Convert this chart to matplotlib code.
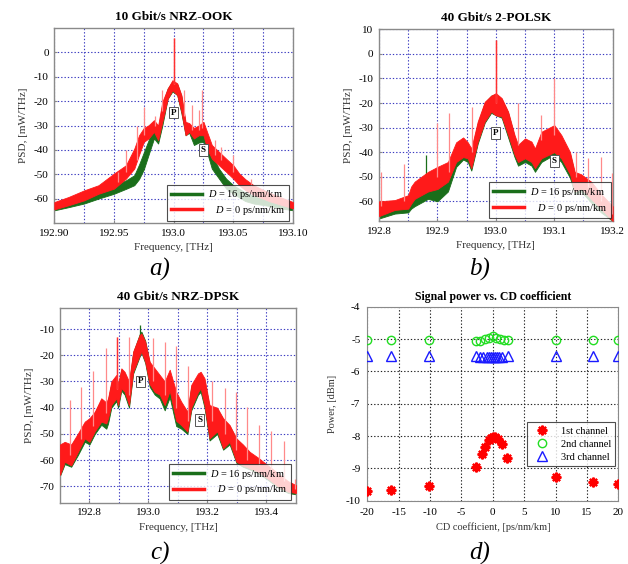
import numpy as np
import matplotlib
matplotlib.use("Agg")
import matplotlib.pyplot as plt
from matplotlib.lines import Line2D

plt.rcParams['font.family'] = ['Liberation Serif', 'DejaVu Serif']
plt.rcParams['mathtext.fontset'] = 'custom'
plt.rcParams['mathtext.it'] = 'Liberation Serif:italic'
plt.rcParams['mathtext.rm'] = 'Liberation Serif'
plt.rcParams['axes.unicode_minus'] = False

# ---------------- Panel a: 10 Gbit/s NRZ-OOK ----------------
fa = [192.900, 192.912, 192.925, 192.937, 192.950, 192.960, 192.967, 192.971, 192.975,
      192.979, 192.9835, 192.987, 192.9905, 192.995, 192.999, 193.003, 193.0065, 193.010,
      193.013, 193.017, 193.021, 193.025, 193.028, 193.032, 193.038, 193.044, 193.050,
      193.055, 193.060, 193.067, 193.080, 193.090, 193.100]
a_red_hi = [-61.4, -59.3, -56.6, -54.5, -49.7, -46.3, -39.5, -34.0, -31.0, -29.9, -27.8, -30.0,
            -20.3, -14.8, -11.4, -12.7, -17.5, -28.5, -29.0, -31.0, -30.0, -28.5, -32.6, -38.0,
            -40.8, -43.6, -46.3, -49.7, -52.0, -54.5, -57.5, -59.5, -61.4]
a_red_lo = [-64.4, -62.7, -60.7, -58.0, -55.9, -51.8, -47.7, -42.0, -36.7, -35.3, -32.6, -36.0,
            -28.5, -19.0, -15.5, -17.5, -24.4, -34.0, -32.6, -35.3, -34.0, -34.0, -39.5, -43.6,
            -46.3, -49.0, -51.8, -54.5, -56.5, -58.5, -61.0, -62.5, -64.0]
a_grn_hi = [-62.0, -60.5, -58.6, -56.8, -54.5, -52.5, -50.4, -46.0, -41.0, -36.0, -30.0, -32.6,
            -21.6, -14.8, -12.0, -13.0, -18.0, -30.0, -30.0, -34.0, -33.0, -31.0, -36.0, -42.0,
            -47.7, -51.8, -54.5, -56.0, -57.5, -59.0, -60.5, -61.5, -62.0]
a_grn_lo = [-64.8, -63.5, -62.0, -60.0, -58.0, -56.0, -54.5, -52.0, -48.0, -42.0, -35.3, -37.4,
            -30.0, -19.0, -16.0, -17.5, -25.0, -34.0, -33.0, -38.0, -37.0, -36.7, -41.0, -47.7,
            -51.8, -55.9, -58.0, -59.5, -61.0, -62.0, -63.0, -64.0, -64.8]
a_spk_f = [192.953, 192.960, 192.969, 192.975, 192.984, 192.990, 193.000, 193.009, 193.015,
           193.021, 193.024, 193.035, 193.040, 193.050, 193.065]
a_spk_base = [-53, -49, -44, -34, -30, -24, -13, -26, -32, -32, -31, -42, -44, -49, -55]
a_spk_top = [-49, -40, -30, -22.3, -26, -15.5, 5.8, -15.5, -21.5, -23.7, -15.5, -36, -39, -42, -52]

# ---------------- Panel b: 40 Gbit/s 2-POLSK ----------------
fb = [192.800, 192.827, 192.850, 192.855, 192.861, 192.884, 192.900, 192.918, 192.932, 192.944,
      192.952, 192.958, 192.969, 192.981, 192.992, 193.000, 193.010, 193.021, 193.032, 193.038,
      193.050, 193.061, 193.067, 193.078, 193.100, 193.112, 193.127, 193.135, 193.146, 193.163,
      193.180, 193.200]
b_red_hi = [-60.0, -59.5, -57.5, -54.0, -52.0, -48.0, -46.0, -44.0, -36.0, -34.0, -36.0, -38.5,
            -27.5, -19.5, -17.0, -16.0, -18.0, -23.5, -33.0, -37.0, -34.4, -35.7, -38.5, -31.7,
            -29.0, -33.0, -40.0, -48.0, -49.0, -52.0, -57.0, -62.0]
b_red_lo = [-66.0, -63.5, -63.0, -61.0, -59.0, -56.0, -55.0, -52.0, -44.0, -42.0, -42.5, -46.5,
            -35.7, -27.5, -23.5, -25.0, -25.5, -33.0, -41.0, -44.0, -42.5, -44.0, -46.5, -42.5,
            -40.0, -42.5, -49.0, -56.0, -54.7, -59.0, -63.0, -68.0]
b_grn_hi = [-61.0, -60.5, -59.0, -56.0, -54.0, -50.0, -48.0, -46.0, -38.0, -35.0, -37.0, -40.0,
            -28.5, -20.0, -17.0, -16.5, -18.5, -24.0, -34.0, -38.0, -35.5, -37.0, -39.5, -33.0,
            -30.0, -34.0, -41.0, -49.0, -50.0, -53.5, -58.5, -63.0]
b_grn_lo = [-67.0, -65.0, -64.5, -63.0, -62.0, -59.0, -60.0, -56.0, -46.0, -43.0, -44.0, -47.5,
            -36.5, -28.0, -24.0, -25.0, -26.0, -34.0, -42.0, -45.5, -44.0, -45.5, -48.0, -44.0,
            -41.0, -44.0, -50.5, -57.0, -56.0, -60.5, -64.5, -68.0]
b_spk_f = [192.803, 192.842, 192.900, 192.920, 192.960, 193.000, 193.038, 193.078, 193.100,
           193.138, 193.157, 193.180, 193.199]
b_spk_base = [-62, -60, -50, -48, -40, -20, -37, -35, -33, -50, -54, -60, -65]
b_spk_top = [-48, -45, -28, -24, -21.5, 5.7, -20, -25, -10, -40, -42.5, -42, -48.6]
b_gspk_f = [192.881]
b_gspk_base = [-54]
b_gspk_top = [-41]

# ---------------- Panel c: 40 Gbit/s NRZ-DPSK ----------------
fc = [192.700, 192.716, 192.738, 192.761, 192.784, 192.800, 192.818, 192.840, 192.857, 192.863,
      192.874, 192.891, 192.897, 192.908, 192.919, 192.934, 192.948, 192.970, 192.976, 192.989,
      193.004, 193.021, 193.038, 193.055, 193.072, 193.094, 193.111, 193.132, 193.145, 193.168,
      193.177, 193.190, 193.207, 193.233, 193.253, 193.275, 193.298, 193.320, 193.343, 193.371,
      193.405, 193.439, 193.473, 193.500]
c_red_hi = [-54.0, -53.0, -54.0, -49.8, -45.3, -44.0, -41.5, -36.4, -38.0, -36.4, -30.0, -27.5,
            -31.0, -25.0, -26.3, -30.0, -18.6, -12.3, -11.7, -14.8, -22.5, -25.0, -27.5, -30.0,
            -25.5, -34.0, -37.7, -41.5, -31.3, -26.9, -26.3, -28.8, -39.0, -40.0, -44.0, -46.6,
            -51.7, -54.0, -56.8, -59.0, -62.0, -65.0, -68.0, -69.5]
c_red_lo = [-65.6, -60.6, -62.0, -56.8, -51.7, -53.0, -49.0, -45.3, -46.0, -44.0, -39.0, -36.4,
            -39.0, -32.6, -33.9, -39.0, -26.3, -20.0, -18.6, -22.5, -31.0, -34.0, -35.0, -39.0,
            -33.5, -45.0, -46.6, -49.1, -40.0, -34.0, -32.6, -39.0, -51.7, -49.0, -55.5, -53.0,
            -60.6, -62.0, -63.0, -64.4, -67.0, -70.0, -72.0, -72.5]
c_grn_hi = [-55.0, -53.5, -54.5, -50.5, -46.0, -44.5, -42.0, -37.0, -39.0, -37.0, -31.0, -28.0,
            -32.0, -25.5, -27.0, -31.0, -19.0, -12.0, -11.0, -14.5, -23.0, -26.0, -28.5, -31.5,
            -27.0, -35.5, -38.5, -42.0, -32.0, -28.0, -28.0, -30.0, -40.0, -40.5, -44.5, -47.0,
            -52.0, -54.5, -57.5, -60.0, -62.5, -65.5, -68.5, -70.0]
c_grn_lo = [-66.0, -61.5, -62.5, -58.0, -53.0, -54.0, -50.0, -46.5, -48.0, -46.0, -40.0, -37.5,
            -40.0, -33.5, -35.0, -40.0, -27.0, -20.5, -19.0, -23.0, -32.0, -35.0, -36.5, -41.0,
            -36.0, -47.0, -48.0, -50.0, -41.0, -35.0, -34.0, -40.0, -52.5, -50.0, -56.0, -54.0,
            -61.0, -62.5, -63.5, -65.0, -67.5, -70.5, -72.5, -73.0]
c_spk_f = [192.733, 192.772, 192.812, 192.855, 192.894, 192.934, 193.015, 193.055, 193.094,
           193.134, 193.215, 193.258, 193.298, 193.335, 193.375, 193.416, 193.458, 193.498]
c_spk_base = [-58, -52, -47, -42, -33, -35, -30, -35, -40, -45, -45, -50, -56, -60, -62, -65, -68, -71]
c_spk_top = [-37, -32, -26, -17.4, -13, -13, -13.6, -14.8, -16.4, -24, -30, -32.6, -34, -39.6,
             -46.4, -49, -52.7, -67]
c_gspk_f = [192.972]
c_gspk_base = [-15]
c_gspk_top = [-8.5]

# ---------------- Panel d: Signal power vs CD coefficient ----------------
ch1_x = [-20, -16.3, -10.2, -2.7, -1.8, -1.2, -0.6, -0.3, 0.0, 0.4, 0.9, 1.5, 2.3, 10, 16, 20]
ch1_y = [-9.70, -9.67, -9.55, -8.96, -8.54, -8.33, -8.12, -8.05, -8.02, -8.04, -8.10, -8.25,
         -8.68, -9.28, -9.41, -9.48]
ch2_x = [-20, -16.3, -10.2, -2.7, -2.0, -1.3, -0.6, 0.0, 0.5, 1.2, 1.8, 2.4, 10, 16, 20]
ch2_y = [-5.03, -5.03, -5.03, -5.06, -5.05, -5.01, -4.97, -4.92, -4.97, -5.00, -5.03, -5.04,
         -5.03, -5.03, -5.03]
ch3_x = [-20, -16.3, -10.2, -2.7, -2.0, -1.5, -1.0, -0.6, -0.3, 0.0, 0.3, 0.6, 1.0, 1.5, 2.4,
         10, 16, 20]
ch3_y = [-5.53, -5.53, -5.53, -5.53, -5.54, -5.55, -5.56, -5.56, -5.57, -5.57, -5.57, -5.56,
         -5.56, -5.55, -5.53, -5.53, -5.53, -5.53]

GREEN = '#1a6e1a'
RED = '#ff1a1a'
PINK = '#ff8a8a'
GRID_BLUE = '#3a3ac0'
FRAME = '#8a8a8a'

fig = plt.figure(figsize=(6.28, 5.64), dpi=100)

def spectrum_axes(rect, f, rhi, rlo, ghi, glo, sf, sb, st, gsf, gsb, gst,
                  xlim, ylim, xt, xtl, xgrid, yt, title, P, S, leg_anchor):
    ax = fig.add_axes(rect)
    ax.fill_between(f, glo, ghi, color=GREEN, lw=0.6, zorder=2)
    ax.vlines(gsf, gsb, gst, color=GREEN, lw=0.9, zorder=2)
    ax.fill_between(f, rlo, rhi, color=RED, lw=0.6, zorder=3)
    ax.vlines(sf, sb, st, color=PINK, lw=0.9, zorder=3)
    imax = int(np.argmax(st))
    ax.vlines([sf[imax]], [sb[imax]], [st[imax]], color='#ff3030', lw=1.0, zorder=4)
    ax.set_xlim(*xlim)
    ax.set_ylim(*ylim)
    ax.set_xticks(xt)
    ax.set_xticklabels(xtl)
    ax.set_xticks(xgrid, minor=True)
    ax.set_yticks(yt)
    ax.set_yticklabels([str(v) for v in yt])
    ax.grid(True, which='both', color=GRID_BLUE, ls=(0, (1.2, 1.8)), lw=0.8, zorder=1)
    ax.set_axisbelow(True)
    for s in ax.spines.values():
        s.set_color(FRAME)
        s.set_linewidth(1.0)
    ax.tick_params(which='both', direction='in', length=2.5, color=FRAME, labelsize=8, pad=4)
    ax.tick_params(which='minor', length=0)
    ax.set_title(title, fontsize=9.5, fontweight='bold', pad=6)
    ax.set_xlabel('Frequency, [THz]', fontsize=8, color='#333333', labelpad=4)
    ax.set_ylabel('PSD, [mW/THz]', fontsize=8, color='#333333', labelpad=4)
    for lab, (x, y) in (('P', P), ('S', S)):
        ax.text(x, y, lab, fontsize=6.5, fontweight='bold', ha='center', va='center', zorder=6,
                bbox=dict(boxstyle='square,pad=0.2', fc='white', ec='#555555', lw=0.7))
    handles = [Line2D([0], [0], color=GREEN, lw=2.5), Line2D([0], [0], color=RED, lw=2.5)]
    leg = ax.legend(handles, ['$D$ = 16 ps/nm/km', '   $D$ = 0 ps/nm/km'], loc='lower right',
                    bbox_to_anchor=leg_anchor, fontsize=7.5, frameon=True, fancybox=False,
                    handlelength=3.0, handletextpad=0.6, borderpad=0.35, labelspacing=0.25,
                    borderaxespad=0.0)
    leg.get_frame().set_edgecolor('#222222')
    leg.get_frame().set_linewidth(0.8)
    leg.set_zorder(7)
    return ax

spectrum_axes([0.0865, 0.6046, 0.380, 0.3457], fa, a_red_hi, a_red_lo, a_grn_hi, a_grn_lo,
              a_spk_f, a_spk_base, a_spk_top, [], [], [],
              (192.90, 193.10), (-70, 10),
              [192.90, 192.95, 193.0, 193.05, 193.10], ['192.90', '192.95', '193.0', '193.05', '193.10'],
              [192.925, 192.975, 193.025, 193.075],
              [0, -10, -20, -30, -40, -50, -60],
              '10 Gbit/s NRZ-OOK', (193.0, -24.7), (193.025, -40.1), (0.985, 0.012))

spectrum_axes([0.6035, 0.6082, 0.3721, 0.3399], fb, b_red_hi, b_red_lo, b_grn_hi, b_grn_lo,
              b_spk_f, b_spk_base, b_spk_top, b_gspk_f, b_gspk_base, b_gspk_top,
              (192.8, 193.2), (-68, 10),
              [192.8, 192.9, 193.0, 193.1, 193.2], ['192.8', '192.9', '193.0', '193.1', '193.2'],
              [192.85, 192.95, 193.05, 193.15],
              [10, 0, -10, -20, -30, -40, -50, -60],
              '40 Gbit/s 2-POLSK', (193.0, -32.3), (193.1, -43.6), (0.994, 0.014))

spectrum_axes([0.0955, 0.1087, 0.3758, 0.3447], fc, c_red_hi, c_red_lo, c_grn_hi, c_grn_lo,
              c_spk_f, c_spk_base, c_spk_top, c_gspk_f, c_gspk_base, c_gspk_top,
              (192.7, 193.5), (-76.2, -2.1),
              [192.8, 193.0, 193.2, 193.4], ['192.8', '193.0', '193.2', '193.4'],
              [192.9, 193.1, 193.3],
              [-10, -20, -30, -40, -50, -60, -70],
              '40 Gbit/s NRZ-DPSK', (192.973, -30.0), (193.174, -44.7), (0.98, 0.014))

# Panel d
axd = fig.add_axes([0.5849, 0.1122, 0.3997, 0.344])
axd.plot(ch1_x, ch1_y, ls='none', marker=(8, 2, 0), ms=7, color='#ff0000', mec='#ff0000',
         mew=1.6, label='1st channel', zorder=3)
axd.plot(ch2_x, ch2_y, ls='none', marker='o', ms=6, mfc='none', mec='#22dd22', mew=1.0,
         label='2nd channel', zorder=3)
axd.plot(ch3_x, ch3_y, ls='none', marker='^', ms=6.5, mfc='none', mec='#1a1aff', mew=1.0,
         label='3rd channel', zorder=3)
axd.set_xlim(-20, 20)
axd.set_ylim(-10, -4)
axd.set_xticks(range(-20, 21, 5))
axd.set_yticks(range(-10, -3))
axd.grid(True, color='#222222', ls=(0, (1.2, 1.8)), lw=0.8)
axd.set_axisbelow(True)
for s in axd.spines.values():
    s.set_color(FRAME)
axd.tick_params(direction='in', length=0, labelsize=8, pad=5)
axd.set_title('Signal power vs. CD coefficient', fontsize=8.5, fontweight='bold', pad=5)
axd.set_xlabel('CD coefficient, [ps/nm/km]', fontsize=7.5, color='#333333', labelpad=4)
axd.set_ylabel('Power, [dBm]', fontsize=7.5, color='#333333', labelpad=6)
legd = axd.legend(loc='lower right', bbox_to_anchor=(0.987, 0.179), fontsize=7.5, frameon=True,
                  fancybox=False, handletextpad=0.8, borderpad=0.4, labelspacing=0.35,
                  borderaxespad=0.0)
legd.get_frame().set_edgecolor('#222222')
legd.get_frame().set_linewidth(0.8)

# panel letters
for txt, x, y in (('a)', 0.255, 0.522), ('b)', 0.764, 0.522), ('c)', 0.255, 0.018), ('d)', 0.764, 0.018)):
    fig.text(x, y, txt, fontsize=18, style='italic', ha='center', va='center')

fig.savefig('out.png', dpi=100)
